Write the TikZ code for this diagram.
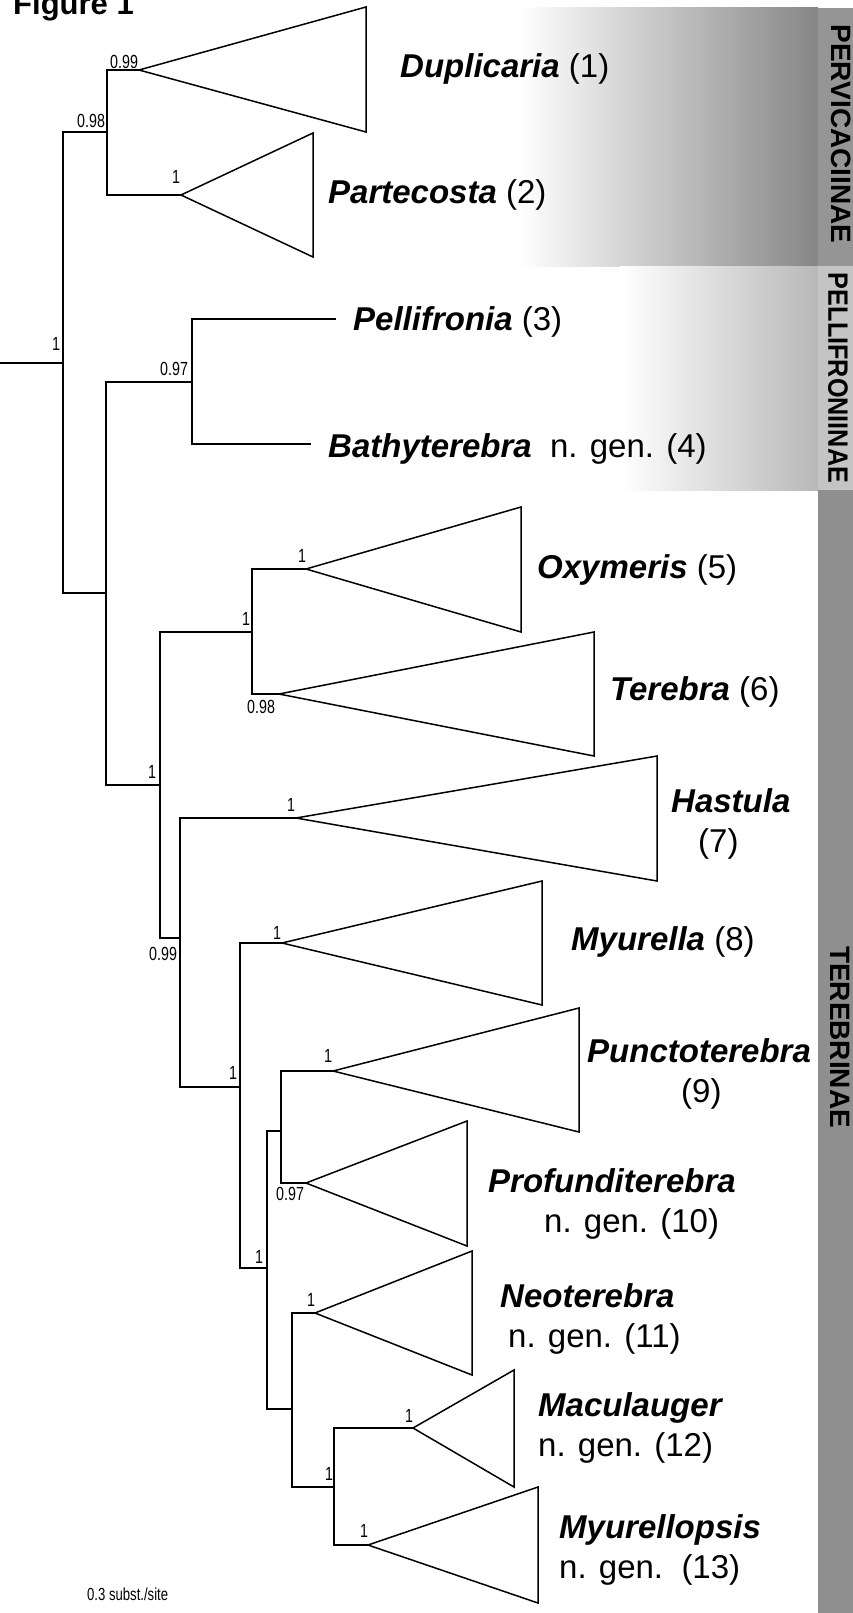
\documentclass[tikz,border=0pt]{standalone}
\usepackage{fontspec}
\setmainfont{Liberation Sans}
\newfontfamily\bsfont[FakeStretch=0.75]{Liberation Sans}
\usepackage{graphicx}
\definecolor{pervgrad}{HTML}{868686}
\definecolor{pervstrip}{HTML}{959595}
\definecolor{pellgrad}{HTML}{B8B8B8}
\definecolor{pellstrip}{HTML}{C4C4C4}
\definecolor{terestrip}{HTML}{8F8F8F}
\begin{document}
\begin{tikzpicture}[x=1pt,y=-1pt,
  branch/.style={line width=2pt},
  clade/.style={line width=1.5pt,line join=miter},
  genus/.style={anchor=base west,inner sep=0pt,font=\fontsize{33}{40}\selectfont},
  supp/.style={anchor=base west,inner sep=0pt,font=\bsfont\fontsize{19}{22}\selectfont},
  subfam/.style={rotate=-90,inner sep=0pt,font=\bfseries\fontsize{28}{32}\selectfont}]
\useasboundingbox (0,0) rectangle (853,1613);
% background bands
\shade[left color=white,right color=pervgrad] (520,8) rectangle (818,266);
\fill[pervstrip] (818,8) rectangle (853,266);
\shade[left color=white,right color=pellgrad] (620,266) rectangle (818,490);
\fill[pellstrip] (818,266) rectangle (853,490);
\fill[terestrip] (818,490) rectangle (853,1613);
\node[subfam] (perv) at (841,134) {PERVICACIINAE};
\node[subfam] (pell) at (838,378) {\scalebox{0.9}[1]{PELLIFRONIINAE}};
\node[subfam] (tere) at (840,1037) {TEREBRINAE};
% title
\node[anchor=base west,inner sep=0pt,font=\bfseries\fontsize{31}{36}\selectfont] (title) at (13,15) {Figure 1};
% internal nodes
\coordinate (r0) at (0,363);
\coordinate (r) at (63,363);
\coordinate (A) at (107,132);
\coordinate (B) at (106,593);
\coordinate (C) at (192,382);
\coordinate (D) at (160,785);
\coordinate (E) at (252,632);
\coordinate (F) at (180,938);
\coordinate (G) at (240,1087);
\coordinate (H) at (267,1268);
\coordinate (I) at (281,1131);
\coordinate (J) at (292,1409);
\coordinate (K) at (334,1487);
% tips / clade apices
\coordinate (dup) at (139,70);
\coordinate (par) at (181,195);
\coordinate (pel) at (336,319);
\coordinate (bat) at (311,444);
\coordinate (oxy) at (306,569);
\coordinate (ter) at (279,694);
\coordinate (has) at (296,818);
\coordinate (myu) at (282,943);
\coordinate (pun) at (333,1071);
\coordinate (pro) at (306,1183);
\coordinate (neo) at (315,1313);
\coordinate (mac) at (413,1428);
\coordinate (myp) at (368,1545);
% branches
\draw[branch] (r0) -- (r);
\draw[branch] (r) |- (A);
\draw[branch] (r) |- (B);
\draw[branch] (A) |- (dup);
\draw[branch] (A) |- (par);
\draw[branch] (B) |- (C);
\draw[branch] (B) |- (D);
\draw[branch] (C) |- (pel);
\draw[branch] (C) |- (bat);
\draw[branch] (D) |- (E);
\draw[branch] (D) |- (F);
\draw[branch] (E) |- (oxy);
\draw[branch] (E) |- (ter);
\draw[branch] (F) |- (has);
\draw[branch] (F) |- (G);
\draw[branch] (G) |- (myu);
\draw[branch] (G) |- (H);
\draw[branch] (H) |- (I);
\draw[branch] (H) |- (J);
\draw[branch] (I) |- (pun);
\draw[branch] (I) |- (pro);
\draw[branch] (J) |- (neo);
\draw[branch] (J) |- (K);
\draw[branch] (K) |- (mac);
\draw[branch] (K) |- (myp);
% collapsed clades
\draw[clade] (dup) -- (366,7) -- (366,132) -- cycle;
\draw[clade] (par) -- (313,133) -- (313,257) -- cycle;
\draw[clade] (oxy) -- (521,507) -- (521,632) -- cycle;
\draw[clade] (ter) -- (594,632) -- (594,756) -- cycle;
\draw[clade] (has) -- (657,756) -- (657,881) -- cycle;
\draw[clade] (myu) -- (542,881) -- (542,1005) -- cycle;
\draw[clade] (pun) -- (579,1008) -- (579,1132) -- cycle;
\draw[clade] (pro) -- (467,1121) -- (467,1246) -- cycle;
\draw[clade] (neo) -- (472,1251) -- (472,1375) -- cycle;
\draw[clade] (mac) -- (514,1370) -- (514,1487) -- cycle;
\draw[clade] (myp) -- (538,1487) -- (538,1603) -- cycle;
% support values
\node[supp] (s1) at (110,69) {0.99};
\node[supp] (s2) at (77,128) {0.98};
\node[supp] (s3) at (172,184) {1};
\node[supp] (s4) at (52,350) {1};
\node[supp] (s5) at (160,375) {0.97};
\node[supp] (s6) at (298,562) {1};
\node[supp] (s7) at (242,625) {1};
\node[supp] (s8) at (247,713) {0.98};
\node[supp] (s9) at (148,778) {1};
\node[supp] (s10) at (287,811) {1};
\node[supp] (s11) at (149,960) {0.99};
\node[supp] (s12) at (229,1079) {1};
\node[supp] (s13) at (273,939) {1};
\node[supp] (s14) at (324,1062) {1};
\node[supp] (s15) at (276,1200) {0.97};
\node[supp] (s16) at (255,1263) {1};
\node[supp] (s17) at (307,1306) {1};
\node[supp] (s18) at (325,1480) {1};
\node[supp] (s19) at (405,1422) {1};
\node[supp] (s20) at (360,1537) {1};
% genus labels
\node[genus] (l1) at (400,78) {\textbf{\textit{Duplicaria}} (1)};
\node[genus] (l2) at (328,204) {\textbf{\textit{Partecosta}} (2)};
\node[genus] (l3) at (353,330) {\textbf{\textit{Pellifronia}} (3)};
\node[genus] (l4) at (328,457) {\textbf{\textit{Bathyterebra}}\ \ n. gen. (4)};
\node[genus] (l5) at (537,578) {\textbf{\textit{Oxymeris}} (5)};
\node[genus] (l6) at (610,700) {\textbf{\textit{Terebra}} (6)};
\node[genus] (l7) at (671,812) {\textbf{\textit{Hastula}}};
\node[genus] (l7b) at (698,852) {(7)};
\node[genus] (l8) at (571,950) {\textbf{\textit{Myurella}} (8)};
\node[genus] (l9) at (587,1062) {\textbf{\textit{Punctoterebra}}};
\node[genus] (l9b) at (681,1102) {(9)};
\node[genus] (l10) at (488,1192) {\textbf{\textit{Profunditerebra}}};
\node[genus] (l10b) at (544,1232) {n. gen. (10)};
\node[genus] (l11) at (500,1307) {\textbf{\textit{Neoterebra}}};
\node[genus] (l11b) at (508,1347) {n. gen. (11)};
\node[genus] (l12) at (538,1416) {\textbf{\textit{Maculauger}}};
\node[genus] (l12b) at (538,1456) {n. gen. (12)};
\node[genus] (l13) at (559,1538) {\textbf{\textit{Myurellopsis}}};
\node[genus] (l13b) at (559,1578) {n. gen.\ \ (13)};
% scale
\node[anchor=base west,inner sep=0pt,font=\bsfont\fontsize{17.5}{20}\selectfont] (scale) at (87,1600) {0.3 subst./site};
\end{tikzpicture}
\end{document}
